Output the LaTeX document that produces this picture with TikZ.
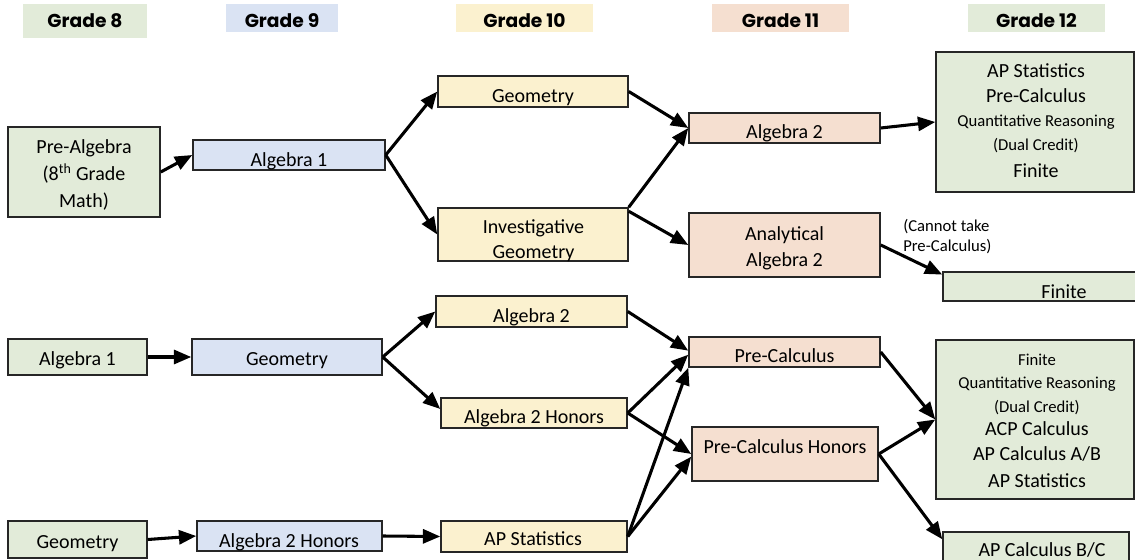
\documentclass[tikz,border=0pt]{standalone}
\usepackage{fontspec}
\setmainfont{Carlito}
\newfontfamily\headfont{Poppins}
\usetikzlibrary{arrows.meta,fit}

\definecolor{grn}{HTML}{E2EBD9}
\definecolor{blu}{HTML}{DAE3F3}
\definecolor{ylw}{HTML}{FBF1CF}
\definecolor{sal}{HTML}{F5DFD0}

\newcommand\smf{\fontsize{12.5}{15}\selectfont}

\tikzset{
    box/.style  = {draw = black!85, line width = 1.1pt, inner sep = 0pt},
    head/.style = {inner sep = 0pt},
    txt/.style  = {font = \fontsize{15}{18}\selectfont, inner sep = 0pt, anchor = base},
    htxt/.style = {txt, font = \headfont\bfseries\fontsize{14}{16}\selectfont},
    arr/.style  = {line width = 2.3pt, -{Triangle[length = 13pt, width = 10.5pt]}}
}

\begin{document}
\begin{tikzpicture}[x = 0.75pt, y = -0.75pt]
    \useasboundingbox (0, 0) rectangle (1135, 560);
    % Grade headers
    \foreach\g/\xa/\xb/\yb/\c in {8/23/147/38/grn, 9/226/338/32/blu, 10/456/593/32/ylw, 11/712/849/32/sal, 12/968/1105/32/grn} {
        \node [head, fill = \c, fit = {(\xa, 4) (\xb, \yb)}] (g\g) {};
        \node [htxt] (g\g-t) at ({(\xa + \xb) / 2}, 28) {Grade \g};
    }
    % Grade 8
    \node [box, fill = grn, fit = {(8, 127) (160, 217)}] (pa8) {};
    \node [box, fill = grn, fit = {(8, 339) (147, 375)}] (al8) {};
    \node [box, fill = grn, fit = {(8, 521) (147, 558)}] (ge8) {};
    \foreach\yy/\t [count = \i] in {153/Pre-Algebra, 180/{(8\textsuperscript{th} Grade}, 207/Math)}
        \node [txt] (pa8-\i) at (84, \yy) {\t};
    \node [txt] (al8-t) at (77.5, 365) {Algebra 1};
    \node [txt] (ge8-t) at (77.5, 548) {Geometry};
    % Grade 9
    \node [box, fill = blu, fit = {(193, 140) (385, 170)}] (al9) {};
    \node [box, fill = blu, fit = {(192, 339) (382, 375)}] (ge9) {};
    \node [box, fill = blu, fit = {(197, 521) (382, 551)}] (ah9) {};
    \node [txt] (al9-t) at (289, 166) {Algebra 1};
    \node [txt] (ge9-t) at (287, 365) {Geometry};
    \node [txt] (ah9-t) at (289, 547) {Algebra 2 Honors};
    % Grade 10
    \node [box, fill = ylw, fit = {(438, 76) (628, 107)}] (ge10) {};
    \node [box, fill = ylw, fit = {(438, 208) (628, 261)}] (ig10) {};
    \node [box, fill = ylw, fit = {(436, 296) (627, 327)}] (al10) {};
    \node [box, fill = ylw, fit = {(441, 398) (627, 428)}] (ah10) {};
    \node [box, fill = ylw, fit = {(441, 521) (627, 552)}] (ap10) {};
    \node [txt] (ge10-t) at (533, 103) {Geometry};
    \node [txt] (ig10-1) at (533.5, 233) {Investigative};
    \node [txt] (ig10-2) at (533.5, 258) {Geometry};
    \node [txt] (al10-t) at (531.5, 322) {Algebra 2};
    \node [txt] (ah10-t) at (534, 423) {Algebra 2 Honors};
    \node [txt] (ap10-t) at (533, 545) {AP Statistics};
    % Grade 11
    \node [box, fill = sal, fit = {(689, 113) (880, 143)}] (al11) {};
    \node [box, fill = sal, fit = {(689, 213) (880, 277)}] (aa11) {};
    \node [box, fill = sal, fit = {(689, 337) (880, 367)}] (pc11) {};
    \node [box, fill = sal, fit = {(692, 427) (878, 481)}] (ph11) {};
    \node [txt] (al11-t) at (784.5, 138) {Algebra 2};
    \node [txt] (aa11-1) at (784.5, 240) {Analytical};
    \node [txt] (aa11-2) at (784.5, 266) {Algebra 2};
    \node [txt] (pc11-t) at (784.5, 362) {Pre-Calculus};
    \node [txt] (ph11-t) at (785, 453) {Pre-Calculus Honors};
    % Grade 12
    \node [box, fill = grn, fit = {(936, 52) (1134, 192)}] (c12a) {};
    \node [box, fill = grn, fit = {(943, 272) (1185, 301)}] (fi12) {};
    \node [box, fill = grn, fit = {(936, 340) (1134, 499)}] (c12b) {};
    \node [box, fill = grn, fit = {(943, 532) (1129, 575)}] (bc12) {};
    \foreach\yy/\t [count = \i] in {78/AP Statistics, 103/Pre-Calculus, 127/\smf Quantitative Reasoning, 150/\smf (Dual Credit), 177/Finite}
        \node [txt] (c12a-\i) at (1036, \yy) {\t};
    \foreach\yy/\t [count = \i] in {365/\smf Finite, 388/\smf Quantitative Reasoning, 412/\smf (Dual Credit), 435/ACP Calculus, 460/{AP Calculus A/B}, 487/AP Statistics}
        \node [txt] (c12b-\i) at (1037, \yy) {\t};
    \node [txt] (fi12-t) at (1064, 298) {Finite};
    \node [txt] (bc12-t) at (1042, 556) {AP Calculus B/C};
    \node [txt, font = \smf, anchor = base west] (note-1) at (903, 231) {(Cannot take};
    \node [txt, font = \smf, anchor = base west] (note-2) at (903, 251) {Pre-Calculus)};
    % Arrows, first track
    \draw [arr] (pa8.east) -- (al9.west);
    \draw [arr] (al9.east) -- (ge10.west);
    \draw [arr] (al9.east) -- (ig10.west);
    \draw [arr] (ge10.east) -- (al11.west);
    \draw [arr] (ig10.north east) -- (al11.west);
    \draw [arr] ([yshift = -3pt]ig10.north east) -- (aa11.west);
    \draw [arr] (al11.east) -- (c12a.west);
    \draw [arr] (aa11.east) -- ([yshift = -2.5pt]fi12.north west);
    % Arrows, second track
    \draw [arr] (al8.east) -- (ge9.west);
    \draw [arr] (ge9.east) -- (al10.west);
    \draw [arr] (ge9.east) -- ([yshift = 3pt]ah10.west);
    \draw [arr] (al10.east) -- ([yshift = 1pt]pc11.west);
    \draw [arr] (ah10.east) -- ([yshift = -2pt]pc11.west);
    \draw [arr] (ah10.east) -- (ph11.west);
    \draw [arr] (ap10.east) -- (pc11.south west);
    \draw [arr] (ap10.east) -- ([yshift = -2pt]ph11.west);
    \draw [arr] (pc11.east) -- (c12b.west);
    \draw [arr] (ph11.east) -- (c12b.west);
    \draw [arr] (ph11.east) -- ([yshift = -6pt]bc12.north west);
    % Arrows, third track
    \draw [arr] (ge8.east) -- (ah9.west);
    \draw [arr] (ah9.east) -- (ap10.west);
\end{tikzpicture}
\end{document}
